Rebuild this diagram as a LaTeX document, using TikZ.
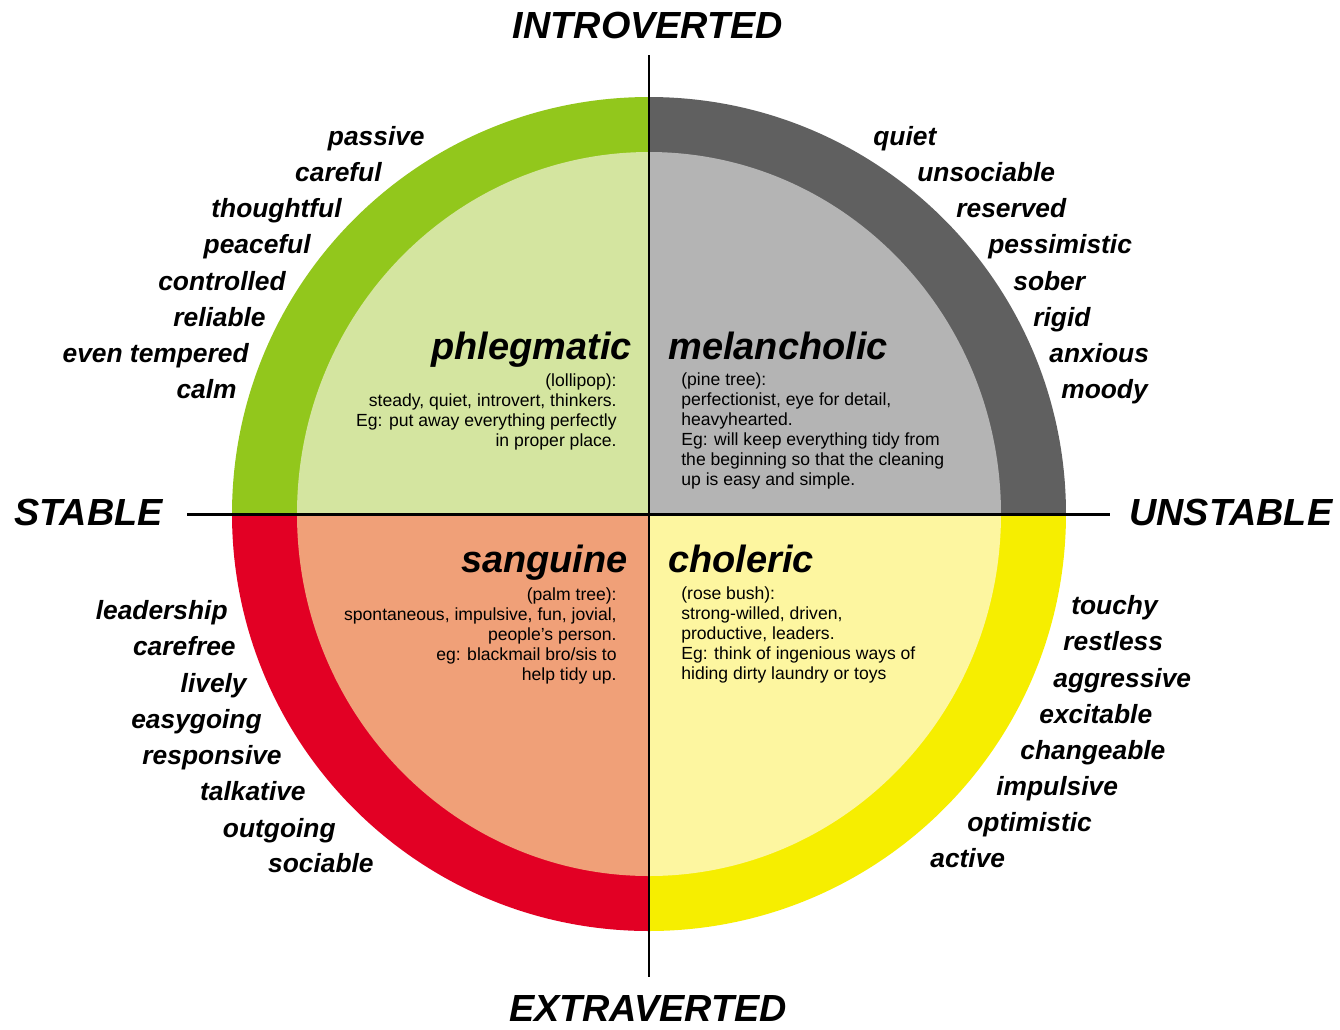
\documentclass[tikz,border=0pt]{standalone}
\usepackage{fontspec}
\setmainfont{Liberation Sans}
\definecolor{phlring}{RGB}{146,199,28}
\definecolor{phlin}{RGB}{212,229,160}
\definecolor{melring}{RGB}{96,96,96}
\definecolor{melin}{RGB}{180,180,180}
\definecolor{sanring}{RGB}{226,0,36}
\definecolor{sanin}{RGB}{240,160,120}
\definecolor{choring}{RGB}{246,238,0}
\definecolor{choin}{RGB}{253,246,160}
\begin{document}
\begin{tikzpicture}[x=0.02cm,y=-0.02cm,
    trait/.style={inner sep=0pt,font=\fontsize{15}{18}\selectfont\bfseries\itshape},
    axislabel/.style={inner sep=0pt,font=\fontsize{21.5}{24}\selectfont\bfseries\itshape},
    temper/.style={inner sep=0pt,font=\fontsize{21.6}{24}\selectfont\bfseries\itshape},
    blurb/.style={inner sep=0pt,font=\fontsize{10}{11.45}\selectfont}]
  \useasboundingbox (0,0) rectangle (1340,1029);
  %% the four quarters
  \foreach \cx/\cy/\ring/\inner in {0/0/phlring/phlin, 1340/0/melring/melin,
      0/1029/sanring/sanin, 1340/1029/choring/choin}{
    \begin{scope}
      \clip (649,514) rectangle (\cx,\cy);
      \fill[\ring] (649,514) circle[radius=417];
      \fill[\inner] (649,514) ellipse[x radius=352, y radius=362];
    \end{scope}
  }
  %% axes
  \coordinate (top) at (649,55);
  \coordinate (bot) at (649,977);
  \coordinate (lft) at (187,514);
  \coordinate (rgt) at (1110,514);
  \draw[line width=1.7pt] (top) -- (bot);
  \draw[line width=1.7pt] (lft) -- (rgt);
  \node[axislabel,anchor=base] (intro) at (648,38) {INTROVERTED};
  \node[axislabel,anchor=base] (extra) at (648,1021) {EXTRAVERTED};
  \node[axislabel,anchor=base west] (stable) at (14,525) {STABLE};
  \node[axislabel,anchor=base west] (unstable) at (1129,525) {UNSTABLE};
  %% temperaments
  \node[temper,anchor=base east] (phl) at (632,359) {phlegmatic};
  \node[temper,anchor=base west] (mel) at (668,359) {melancholic};
  \node[temper,anchor=base east] (san) at (628,572) {sanguine};
  \node[temper,anchor=base west] (cho) at (668,572) {choleric};
  \node[blurb,anchor=north east,align=right] (phltxt) at (617,373)
    {(lollipop):\\steady, quiet, introvert, thinkers.\\Eg: put away everything perfectly\\in proper place.};
  \node[blurb,anchor=north west,align=left] (meltxt) at (681,372)
    {(pine tree):\\perfectionist, eye for detail,\\heavyhearted.\\Eg: will keep everything tidy from\\the beginning so that the cleaning\\up is easy and simple.};
  \node[blurb,anchor=north east,align=right] (santxt) at (617,587)
    {(palm tree):\\spontaneous, impulsive, fun, jovial,\\people's person.\\eg: blackmail bro/sis to\\help tidy up.};
  \node[blurb,anchor=north west,align=left] (chotxt) at (681,586)
    {(rose bush):\\strong-willed, driven,\\productive, leaders.\\Eg: think of ingenious ways of\\hiding dirty laundry or toys};
  %% traits round the circle
  \foreach \w/\x/\y [count=\i] in {passive/425/137, careful/382/173, thoughtful/342/209,
      peaceful/311/245, controlled/286/282, reliable/266/318, even tempered/249/354, calm/237/390}
    \node[trait,anchor=base east] (phlw\i) at (\x,\y+8) {\w};
  \foreach \w/\x/\y [count=\i] in {quiet/873/137, unsociable/917/173, reserved/956/209,
      pessimistic/988/245, sober/1013/282, rigid/1033/318, anxious/1049/354, moody/1061/390}
    \node[trait,anchor=base west] (melw\i) at (\x,\y+8) {\w};
  \foreach \w/\x/\y [count=\i] in {leadership/228/611, carefree/236/647, lively/247/684,
      easygoing/262/720, responsive/282/756, talkative/306/792, outgoing/336/829, sociable/374/864}
    \node[trait,anchor=base east] (sanw\i) at (\x,\y+8) {\w};
  \foreach \w/\x/\y [count=\i] in {touchy/1071/606, restless/1063/642, aggressive/1053/679,
      excitable/1039/715, changeable/1020/751, impulsive/996/787, optimistic/967/823, active/930/859}
    \node[trait,anchor=base west] (chow\i) at (\x,\y+8) {\w};
\end{tikzpicture}
\end{document}
